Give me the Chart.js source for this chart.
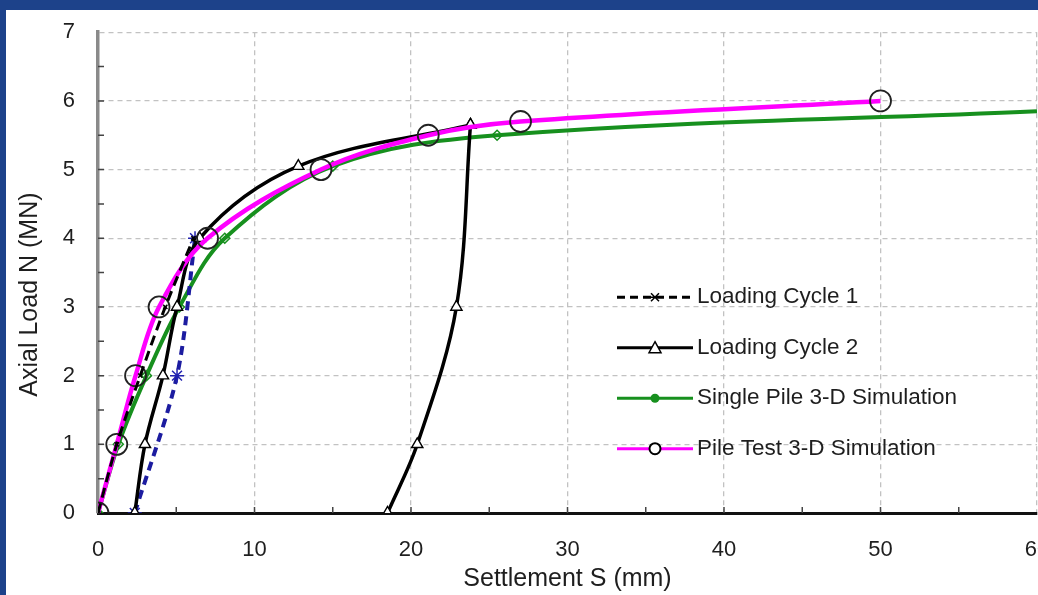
<!DOCTYPE html>
<html>
<head>
<meta charset="utf-8">
<script src="https://cdn.jsdelivr.net/npm/chart.js@4.4.1/dist/chart.umd.min.js"></script>
<style>
  html, body { margin: 0; padding: 0; width: 1038px; height: 595px; overflow: hidden; background: #1d428a; }
  #panel { position: absolute; left: 6px; top: 10px; width: 1100px; height: 585px; background: #fff; overflow: hidden; }
  #wrap { position: absolute; left: 0; top: -14px; width: 1100px; height: 599px; }
</style>
</head>
<body>
<div id="panel"><div id="wrap"><canvas id="chart"></canvas></div></div>
<script>
// ---- Data (settlement S in mm, axial load N in MN) ----
var cycle1LoadS   = [0, 1.2, 2.7, 4.3, 6.1];
var cycle1LoadN   = [0, 1, 2, 3, 4];
var cycle1ReloadS = [2.35, 5.05, 6.2];
var cycle1ReloadN = [0, 2, 4];
var cycle2LoadS   = [2.35, 3.0, 4.15, 5.05, 6.5, 12.8, 23.8];
var cycle2LoadN   = [0, 1, 2, 3, 4, 5.05, 5.65];
var cycle2UnloadS = [23.8, 22.9, 20.4, 18.5];
var cycle2UnloadN = [5.65, 3, 1, 0];
var singlePileS   = [0, 1.3, 3.1, 5.2, 8.1, 15, 25.5, 60];
var singlePileN   = [0, 1, 2, 3, 4, 5.05, 5.5, 5.85];
var pileTestS     = [0, 1.2, 2.4, 3.9, 7.0, 14.25, 21.1, 27.0, 50];
var pileTestN     = [0, 1, 2, 3, 4, 5, 5.5, 5.7, 6];

var xTicks = [0, 10, 20, 30, 40, 50, 60];
var yTicks = [0, 1, 2, 3, 4, 5, 6, 7];

var FONT = "'Liberation Sans', Arial, sans-serif";
var TEXT = "#1e1e1e";

function pairs(xs, ys) {
  return xs.map(function(x, i) { return { x: x, y: ys[i] }; });
}

// ---- small in-chart helpers: inward ticks, y title, legend ----
var decorPlugin = {
  id: "decor",
  afterDraw: function(chart) {
    var ctx = chart.ctx, a = chart.chartArea;
    var xs = chart.scales.x, ys = chart.scales.y;
    ctx.save();
    ctx.strokeStyle = "#444";
    ctx.lineWidth = 1.5;
    ctx.beginPath();
    for (var v = 0.5; v < 7; v += 0.5) {
      var py = ys.getPixelForValue(v);
      ctx.moveTo(a.left, py); ctx.lineTo(a.left + 6, py);
    }
    for (var s = 5; s < 60; s += 5) {
      var px = xs.getPixelForValue(s);
      ctx.moveTo(px, a.bottom); ctx.lineTo(px, a.bottom - 6);
    }
    ctx.stroke();

    // y axis title
    ctx.fillStyle = TEXT;
    ctx.font = "25px " + FONT;
    ctx.textAlign = "center";
    ctx.textBaseline = "middle";
    ctx.translate(24, (a.top + a.bottom) / 2 + 22);
    ctx.rotate(-Math.PI / 2);
    ctx.fillText("Axial Load N (MN)", 0, 0);
    ctx.restore();

    // legend
    var lx = a.left + 519, ly = a.top + 265, gap = 50.5;
    ctx.save();
    ctx.font = "22.5px " + FONT;
    ctx.textBaseline = "middle";
    ctx.textAlign = "left";
    LEGEND.forEach(function(item, i) {
      var y = ly + i * gap;
      ctx.strokeStyle = item.color;
      ctx.lineWidth = 3;
      ctx.setLineDash(item.dash || []);
      ctx.beginPath(); ctx.moveTo(lx, y); ctx.lineTo(lx + 76, y); ctx.stroke();
      ctx.setLineDash([]);
      var cx = lx + 38;
      ctx.lineWidth = 1.5;
      if (item.marker === "star") {
        ctx.strokeStyle = "#000";
        ctx.beginPath();
        ctx.moveTo(cx - 4, y - 4); ctx.lineTo(cx + 4, y + 4);
        ctx.moveTo(cx - 4, y + 4); ctx.lineTo(cx + 4, y - 4);
        ctx.moveTo(cx - 5, y); ctx.lineTo(cx + 5, y);
        ctx.stroke();
      } else if (item.marker === "triangle") {
        ctx.fillStyle = "#fff"; ctx.strokeStyle = "#000";
        ctx.beginPath();
        ctx.moveTo(cx, y - 6); ctx.lineTo(cx + 6, y + 5); ctx.lineTo(cx - 6, y + 5); ctx.closePath();
        ctx.fill(); ctx.stroke();
      } else if (item.marker === "dot") {
        ctx.fillStyle = item.color;
        ctx.beginPath(); ctx.arc(cx, y, 4.5, 0, Math.PI * 2); ctx.fill();
      } else {
        ctx.fillStyle = "#fff"; ctx.strokeStyle = "#000"; ctx.lineWidth = 2;
        ctx.beginPath(); ctx.arc(cx, y, 5.5, 0, Math.PI * 2); ctx.fill(); ctx.stroke();
      }
      ctx.fillStyle = TEXT;
      ctx.fillText(item.label, lx + 80, y);
    });
    ctx.restore();
  }
};

var LEGEND = [
  { label: "Loading Cycle 1",            color: "#000",    dash: [8, 5], marker: "star" },
  { label: "Loading Cycle 2",            color: "#000",    marker: "triangle" },
  { label: "Single Pile 3-D Simulation", color: "#17901e", marker: "dot" },
  { label: "Pile Test 3-D Simulation",   color: "#ff00ff", marker: "circle" },
];

var gridOpts = { color: "#c2c2c2", lineWidth: 1.3, drawTicks: false };

new Chart(document.getElementById("chart"), {
  type: "line",
  data: {
    datasets: [
      {
        label: "Loading Cycle 1",
        data: pairs(cycle1LoadS, cycle1LoadN),
        borderColor: "#000", borderWidth: 3, borderDash: [10, 6],
        pointStyle: "crossRot", pointRadius: 3, pointBorderColor: "#000", pointBorderWidth: 1.5,
        tension: 0.3, order: 0,
      },
      {
        label: "Loading Cycle 1 reload",
        data: pairs(cycle1ReloadS, cycle1ReloadN),
        borderColor: "#1c1ca0", borderWidth: 4, borderDash: [9, 6],
        pointStyle: "star", pointRadius: 7, pointBorderColor: "#2222b0", pointBorderWidth: 1.5,
        tension: 0.3, order: 3,
      },
      {
        label: "Loading Cycle 2",
        data: pairs(cycle2LoadS, cycle2LoadN),
        borderColor: "#000", borderWidth: 3.5,
        pointStyle: "triangle", pointRadius: 6.5, pointBorderColor: "#000", pointBackgroundColor: "#fff", pointBorderWidth: 1.4,
        tension: 0.35, order: 2,
      },
      {
        label: "Loading Cycle 2 unload",
        data: pairs(cycle2UnloadS, cycle2UnloadN),
        borderColor: "#000", borderWidth: 3.5,
        pointStyle: "triangle", pointRadius: 6.5, pointBorderColor: "#000", pointBackgroundColor: "#fff", pointBorderWidth: 1.4,
        tension: 0.35, order: 2,
      },
      {
        label: "Single Pile 3-D Simulation",
        data: pairs(singlePileS, singlePileN),
        borderColor: "#17901e", borderWidth: 4,
        pointStyle: "rectRot", pointRadius: [5, 5, 5, 5, 5, 5, 5, 0], pointBorderColor: "#17901e",
        pointBackgroundColor: "rgba(255,255,255,0)", pointBorderWidth: 1.5,
        tension: 0.35, order: 4,
      },
      {
        label: "Pile Test 3-D Simulation",
        data: pairs(pileTestS, pileTestN),
        borderColor: "#ff00ff", borderWidth: 4.5,
        pointStyle: "circle", pointRadius: 10.5, pointBorderColor: "#222", pointBorderWidth: 1.8,
        pointBackgroundColor: "rgba(255,255,255,0)",
        tension: 0.35, order: 1,
      },
    ],
  },
  options: {
    responsive: true,
    maintainAspectRatio: false,
    animation: false,
    layout: { padding: { left: 0, right: 69, top: 8, bottom: 0 } },
    plugins: { legend: { display: false }, tooltip: { enabled: false } },
    scales: {
      x: {
        type: "linear", min: 0, max: 60,
        afterBuildTicks: function(s) { s.ticks = xTicks.map(function(v) { return { value: v }; }); },
        afterFit: function(s) { s.height = 82; },
        grid: gridOpts,
        border: { color: "#111", width: 3, dash: [5, 4] },
        ticks: { color: TEXT, font: { family: FONT, size: 22 }, padding: 24, maxRotation: 0 },
        title: { display: true, text: "Settlement S (mm)", color: TEXT, font: { family: FONT, size: 25 }, padding: { top: 0, bottom: 1 } },
      },
      y: {
        type: "linear", min: 0, max: 7,
        afterBuildTicks: function(s) { s.ticks = yTicks.map(function(v) { return { value: v }; }); },
        afterFit: function(s) { s.width = 92; },
        grid: gridOpts,
        border: { color: "#8a8a8a", width: 3.5, dash: [5, 4] },
        ticks: { color: TEXT, font: { family: FONT, size: 22 }, padding: 23 },
      },
    },
  },
  plugins: [decorPlugin],
});
</script>
</body>
</html>
